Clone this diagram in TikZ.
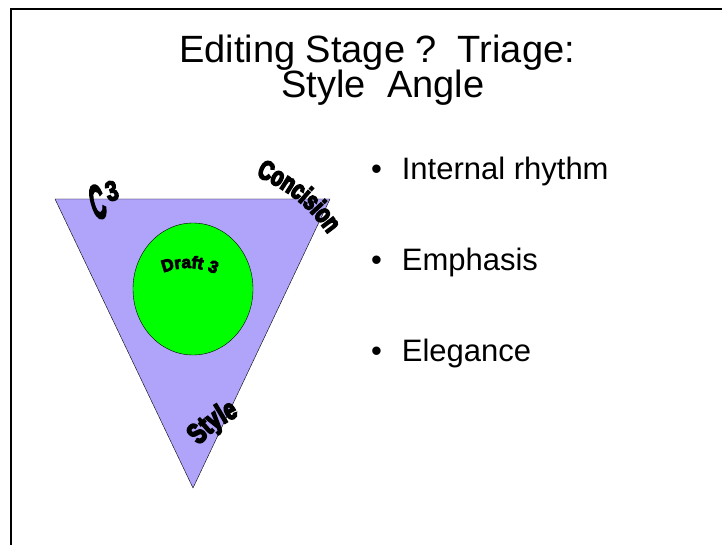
\documentclass[tikz,border=0pt]{standalone}
\usepackage{fontspec}
\setmainfont{Liberation Sans}
\newfontfamily\wordart{Liberation Sans}[UprightFeatures={FakeBold=5}, BoldFeatures={FakeBold=5}]
\newfontfamily\wordartnarrow{Liberation Sans}[FakeStretch=0.72, BoldFeatures={FakeBold=6}]
\usetikzlibrary{decorations.text}
\definecolor{lavender}{RGB}{176,164,250}
\definecolor{draftgreen}{RGB}{0,255,0}

\begin{document}
\begin{tikzpicture}[x=1pt, y=1pt,
  every node/.style = {inner sep=0pt, outer sep=0pt},
  title/.style = {anchor=base, font=\fontsize{38}{38}\selectfont},
  item/.style = {anchor=base west, font=\fontsize{31}{31}\selectfont},
  arch/.style = {decorate, decoration={text along path,
    text align=center, text={#1}}}]
  \useasboundingbox (0,0) rectangle (722,-545);
  % slide frame
  \draw[line width=2pt] (11,-545) -- (11,-9) -- (722,-9);
  \node[title] (head1) at (377,-63) {Editing Stage ?\ \ Triage:};
  \node[title] (head2) at (383,-98) {Style\ \ Angle};

  \coordinate (tl) at (55,-199);
  \coordinate (tr) at (330,-199);
  \coordinate (tip) at (193,-488);
  \draw[fill=lavender] (tl) -- (tr) -- (tip) -- cycle;
  \draw[fill=draftgreen] (193,-289) ellipse (60 and 66);

  % word art round the triangle
  \path[arch={|\wordart\bfseries\fontsize{17}{17}\selectfont|Draft 3}]
    (188,-334) ++(117:66) arc (117:60:66);
  \path[arch={|\wordartnarrow\bfseries\fontsize{27}{27}\selectfont|Concision}]
    (256,-176) to[bend left=15] (328,-234);
  \path[arch={|\wordartnarrow\bfseries\fontsize{29}{29}\selectfont|Style}]
    (193,-453) to[bend left=15] (248,-412);
  \node[rotate=15] (c3) at (105,-200)
    {\wordart\bfseries\fontsize{20}{20}\selectfont
     \scalebox{1}[2.4]{C}\,\raisebox{14pt}{\scalebox{1.1}[1.4]{3}}};

  \foreach \y/\txt [count=\i] in {180/Internal rhythm, 270/Emphasis, 361/Elegance}
    \node[item] (item\i) at (371,-\y) {•\hspace{20pt}\txt};
\end{tikzpicture}
\end{document}
